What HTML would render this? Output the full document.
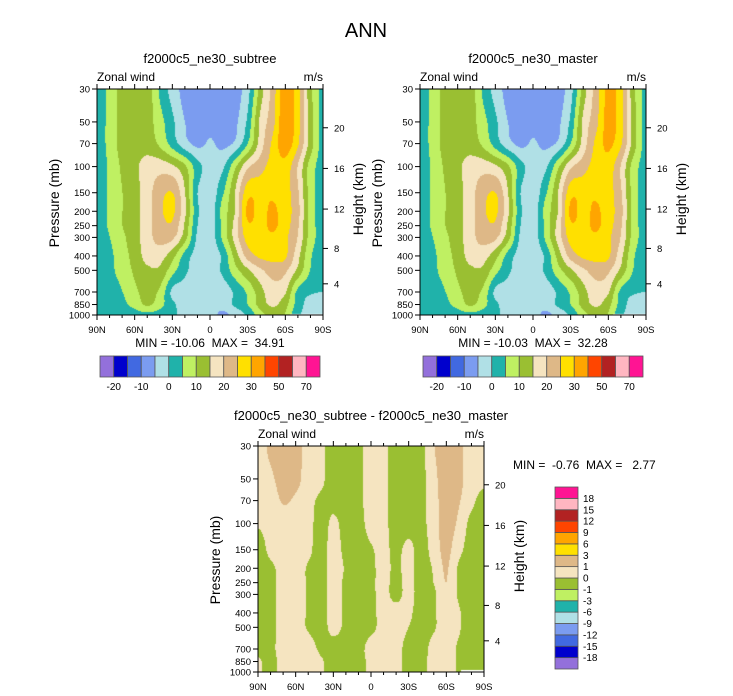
<!DOCTYPE html>
<html><head><meta charset="utf-8"><style>
html,body{margin:0;padding:0;background:#fff;}
#wrap{position:relative;width:733px;height:696px;overflow:hidden;font-family:"Liberation Sans",sans-serif;}
canvas{position:absolute;}
svg{position:absolute;left:0;top:0;}
</style></head><body>
<div id="wrap">
<canvas id="c1" width="226" height="226" style="left:97px;top:89px"></canvas>
<canvas id="c2" width="226" height="226" style="left:420px;top:89px"></canvas>
<canvas id="c3" width="226" height="226" style="left:258px;top:446px"></canvas>
<svg id="svg" width="733" height="696">
<text x="366" y="37" font-size="20" text-anchor="middle">ANN</text>
</svg>
</div>
<script>
const lats = [90,80,70,60,50,40,30,20,10,0,-10,-20,-30,-40,-50,-60,-70,-80,-90];
const plevs = [30,50,70,100,150,200,250,300,400,500,700,850,1000];
const latTickLabels = ["90N","60N","30N","0","30S","60S","90S"];
const heightTicks = [4,8,12,16,20];
const subtreeVals = [
[2,7,12,13,13,4,-2,-7,-8,-8,-8,-7,-2,12,22,33,27,12,3],
[2,7,12,13,12,7,1,-5,-7,-6,-7,-6,1,16,23,34,27,13,3],
[2,7,12,13,13,9,3,-3,-6,-4.5,-6,-4,5,17,26,33,26,13,3],
[2,6,11,14,17,18,16,11,2,-2,-1,9,19,23,27,28,20,8,3],
[2,6,10,13,18,23,25,15,0,-3,4,15,28,28,29,27,21,8,3],
[2,6,10,13,18,24,26,16,1,-3,7,15,31,28,31,27,22,8,3],
[2,6,10,13,18,23,24,14,0,-3,6,17,29,28,31,27,21,8,3],
[2,5,9,13,18,22,21,12,-1,-3,6,17,27,28,29,26,20,8,3],
[2,4,8,12,17,17,12,3,-2,-3,1,12,22,26,27,26,17,6,2],
[2,4,7,11,14,14,7,1,-2,-3,1,8,14,19,22,21,14,5,2],
[2,3,5,9,12,9,-1,-2,-3,-3,-3,1,6,13,18,16,4,1,0],
[2,3,4,7,11,7,1,-2,-3,-3,-3,1,5,12,16,12,3,-2,-3],
[2,1,2,3,4,3,1,-2,-4,-3,-6,-3,1,8,12,10,1,-1,-3]
];
const masterVals = [
[2,7,12,13,13,4,-2,-7,-8,-8,-8,-7,-2,12,22,31,27,12,3],
[2,7,12,13,12,7,1,-5,-7,-6,-7,-6,1,16,23,32,27,13,3],
[2,7,12,13,13,9,3,-3,-6,-4.5,-6,-4,5,17,26,31,26,13,3],
[2,6,11,14,17,18,16,11,2,-2,-1,9,19,23,27,28,20,8,3],
[2,6,10,13,18,23,25,15,0,-3,4,15,28,28,29,27,21,8,3],
[2,6,10,13,18,24,26,16,1,-3,7,15,31,28,31,27,22,8,3],
[2,6,10,13,18,23,24,14,0,-3,6,17,29,28,31,27,21,8,3],
[2,5,9,13,18,22,21,12,-1,-3,6,17,27,28,29,26,20,8,3],
[2,4,8,12,17,17,12,3,-2,-3,1,12,22,26,27,26,17,6,2],
[2,4,7,11,14,14,7,1,-2,-3,1,8,14,19,22,21,14,5,2],
[2,3,5,9,12,9,-1,-2,-3,-3,-3,1,6,13,18,16,4,1,0],
[2,3,4,7,11,7,1,-2,-3,-3,-3,1,5,12,16,12,3,-2,-3],
[2,1,2,3,4,3,1,-2,-4,-3,-6,-3,1,8,12,10,1,-1,-3]
];
const diffVals = [
[.4,1.3,1.6,1.3,.6,.2,-.5,-.6,-.3,.5,.3,-.5,-.6,-.3,.9,1.8,1.3,.5,.4],
[.4,.8,1.5,1.3,.5,.2,-.5,-.6,-.3,.5,.3,-.5,-.6,-.3,.6,1.7,1.3,.5,.3],
[.4,.5,1.1,.8,.3,-.2,-.3,-.5,-.3,.5,.3,-.5,-.6,-.3,.5,1.6,1.1,.3,-.4],
[.1,.4,.5,.5,.3,-.4,.2,-.4,-.4,.4,.3,-.5,-.5,-.3,.5,1.5,.8,-.3,-.6],
[-.5,.3,.5,.5,.2,-.4,.4,-.3,-.5,-.1,.3,-.3,.3,-.4,.4,1.3,.3,-.4,-.6],
[-.5,-.2,.4,.4,-.1,-.4,.4,-.1,-.4,-.2,.3,-.2,.3,-.4,.1,1.1,-.1,-.5,-.6],
[-.5,-.3,.4,.4,-.1,-.4,.4,-.2,-.4,-.2,.3,-.3,.3,-.4,0,1.0,-.1,-.5,-.6],
[-.5,-.3,.4,.4,-.1,-.4,.4,-.2,-.3,-.2,.3,-.3,.3,-.4,-.2,.9,-.1,-.5,-.6],
[-.5,-.3,.4,.4,-.1,-.4,.4,-.2,-.3,-.2,.3,.4,.2,-.4,-.1,.4,.1,-.5,-.6],
[-.5,-.3,.4,.4,-.1,-.4,.3,-.2,-.3,-.2,.3,.4,0,-.4,-.1,.4,.1,-.5,-.6],
[-.3,-.2,.4,.4,.4,-.2,-.4,-.5,-.3,.3,.4,.3,-.3,-.4,.3,.4,-.1,-.4,-.4],
[.1,-.3,.4,.4,.4,.1,-.4,-.5,-.3,.2,.4,.3,-.3,-.3,.3,.4,-.1,-.4,-.4],
[.1,-.3,.4,.4,.4,.1,-.4,-.5,-.3,.2,.4,.3,-.3,-.3,.3,.4,-.1,-.4,-.4]
];
const levelsAbs = [-20,-15,-10,-5,0,5,10,15,20,25,30,40,50,60,70];
const cbAbsLabels = ["-20","-10","0","10","20","30","50","70"];
const levelsDiff = [-18,-15,-12,-9,-6,-3,-1,0,1,3,6,9,12,15,18];
const colors = ["#9370DB","#0000CD","#4169E1","#7B9CF0","#B0E0E6","#20B2AA","#BFF062","#9ABF32","#F5E4C0","#DEB887","#FFE000","#FFA500","#FF4500","#B22222","#FFB6C1","#FF1493"];

const LP0 = Math.log(30), LP1 = Math.log(1000);
function yOfP(p){ return (Math.log(p)-LP0)/(LP1-LP0)*226; }
function pOfZ(z){ z*=1000; return z<=11000 ? 1013.25*Math.pow(1-2.25577e-5*z,5.25588) : 226.32*Math.exp(-(z-11000)/6341.6); }
function xOfLat(l){ return (90-l)/180*226; }

function cr(p0,p1,p2,p3,t){
  return 0.5*((2*p1)+(-p0+p2)*t+(2*p0-5*p1+4*p2-p3)*t*t+(-p0+3*p1-3*p2+p3)*t*t*t);
}
function interp(data, lat, lp){
  const nc = lats.length, nr = plevs.length;
  let fc = (90-lat)/10; let i = Math.min(Math.floor(fc), nc-2); let tx = fc-i;
  let j = 0; while(j<nr-2 && Math.log(plevs[j+1])<lp) j++;
  let a = Math.log(plevs[j]), b = Math.log(plevs[j+1]);
  let ty = Math.max(0,Math.min(1,(lp-a)/(b-a)));
  const cl = (v,n)=>Math.max(0,Math.min(n-1,v));
  const rows = [];
  for(let r=-1;r<=2;r++){
    const row = data[cl(j+r,nr)];
    rows.push(cr(row[cl(i-1,nc)],row[i],row[cl(i+1,nc)],row[cl(i+2,nc)],tx));
  }
  return cr(rows[0],rows[1],rows[2],rows[3],ty);
}
function hex(c){ return [parseInt(c.substr(1,2),16),parseInt(c.substr(3,2),16),parseInt(c.substr(5,2),16)]; }
const rgb = colors.map(hex);
function fill(id, data, levels, ground){
  const cv = document.getElementById(id), ctx = cv.getContext('2d');
  const im = ctx.createImageData(226,226);
  for(let py=0;py<226;py++){
    const lp = LP0 + py/225*(LP1-LP0);
    for(let px=0;px<226;px++){
      const lat = 90 - px/225*180;
      const v = interp(data, lat, lp);
      let k=0; while(k<levels.length && v>=levels[k]) k++;
      let c = rgb[k];
      if(ground && lat < ground[0] && Math.exp(lp) > ground[1]) c=[255,255,255];
      const o=(py*226+px)*4; im.data[o]=c[0]; im.data[o+1]=c[1]; im.data[o+2]=c[2]; im.data[o+3]=255;
    }
  }
  ctx.putImageData(im,0,0);
}
fill('c1', subtreeVals, levelsAbs, [-64,985]);
fill('c2', masterVals, levelsAbs, [-64,985]);
fill('c3', diffVals, levelsDiff, [-72,980]);

const svg = document.getElementById('svg');
const NS = "http://www.w3.org/2000/svg";
function mk(tag, attrs, parent){ const e=document.createElementNS(NS,tag); for(const k in attrs) e.setAttribute(k,attrs[k]); (parent||svg).appendChild(e); return e; }
function txt(x,y,s,size,anchor,parent,rot){ const e=mk('text',{x:x,y:y,'font-size':size,'text-anchor':anchor||'start'},parent); if(rot) e.setAttribute('transform','rotate(-90 '+x+' '+y+')'); e.textContent=s; return e; }

function panel(x0,y0,title,nameKey,minmax,mmPos){
  const g = mk('g',{});
  
  
  const t = txt(x0+113,y0-26,title,13,'middle',g);
  
  
  const zw = txt(x0,y0-8,"Zonal wind",12,'start',g);
  
  
  const un = txt(x0+226,y0-8,"m/s",12,'end',g);
  
  
  const fr = mk('rect',{x:x0,y:y0,width:226,height:226,fill:'none',stroke:'#000','stroke-width':1},g);
  
  
  plevs.forEach(p=>{
    const y=y0+yOfP(p);
    mk('line',{x1:x0-5,x2:x0,y1:y,y2:y,stroke:'#000'},g);
    const l=txt(x0-7,y+3.5,String(p),9.5,'end',g);
    
    
  });
  const py = txt(x0-38,y0+114,"Pressure (mb)",14,'middle',g,true);
  
  
  heightTicks.forEach(h=>{
    const y=y0+yOfP(pOfZ(h));
    mk('line',{x1:x0+226,x2:x0+231,y1:y,y2:y,stroke:'#000'},g);
    const l=txt(x0+237,y+3.5,String(h),9.5,'start',g);
    
    
  });
  const hy = txt(x0+266,y0+110,"Height (km)",14,'middle',g,true);
  
  
  for(let l=90;l>=-90;l-=10){
    const x=x0+xOfLat(l); const major = (l%30===0); const len = major?5:3;
    mk('line',{x1:x,x2:x,y1:y0+226,y2:y0+226+len,stroke:'#000'},g);
    mk('line',{x1:x,x2:x,y1:y0,y2:y0-len,stroke:'#000'},g);
  }
  latTickLabels.forEach((s,i)=>{
    const l=txt(x0+i*226/6,y0+244,s,9.5,'middle',g);
    
    
  });
  const mm = txt(mmPos[0],mmPos[1],minmax,12,mmPos[2],g);
  
  
  mm.style.whiteSpace='pre';
}
panel(97,89,"f2000c5_ne30_subtree","subtree","MIN = -10.06  MAX =  34.91",[210,347,'middle']);
panel(420,89,"f2000c5_ne30_master","master","MIN = -10.03  MAX =  32.28",[533,347,'middle']);
panel(258,446,"f2000c5_ne30_subtree - f2000c5_ne30_master","difference","MIN =  -0.76  MAX =   2.77",[513,469,'start']);

function hbar(x0,y0,nameKey){
  const g = mk('g',{});
  
  
  const w=220/16;
  colors.forEach((c,i)=>{
    const r=mk('rect',{x:x0+i*w,y:y0,width:w,height:21,fill:c,stroke:'#555','stroke-width':0.8},g);
    
    
  });
  cbAbsLabels.forEach((s,i)=>{
    const l=txt(x0+(2*i+1)*w,y0+34,s,10,'middle',g);
    
    
  });
}
hbar(100,356,'subtree');
hbar(423,356,'master');

(function(){
  const g = mk('g',{});
  
  
  const x0=555,y0=487,h=182/16;
  colors.forEach((c,i)=>{
    const r=mk('rect',{x:x0,y:y0+(15-i)*h,width:23,height:h,fill:c,stroke:'#555','stroke-width':0.8},g);
    
    
  });
  levelsDiff.forEach((v,i)=>{
    const l=txt(x0+28,y0+(15-i)*h+3.5,String(v),10,'start',g);
    
    
  });
})();
</script>
</body></html>
